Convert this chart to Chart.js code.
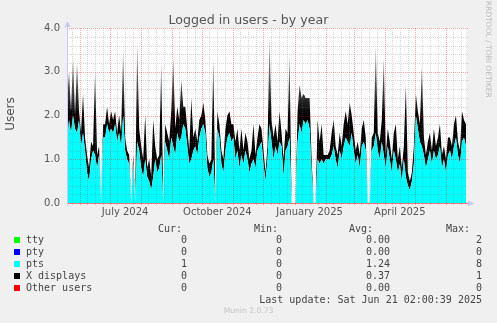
<!DOCTYPE html>
<html>
<head>
<meta charset="utf-8">
<title>Logged in users - by year</title>
<script src="https://cdn.jsdelivr.net/npm/chart.js@4.4.1/dist/chart.umd.min.js"></script>
<style>
  body { margin: 0; background: #f0f0f0; }
  #wrap { position: relative; width: 497px; height: 323px; overflow: hidden; font-family: "DejaVu Sans", sans-serif; color: #555; }
  #wrap canvas { position: absolute; left: 0; top: 0; }
  .t { position: absolute; white-space: pre; }
  .mono { font-family: "DejaVu Sans Mono", monospace; font-size: 10px; line-height: 12px; color: #444; }
  .r { text-align: right; }
  .sq { position: absolute; left: 14px; width: 6px; height: 6px; }
</style>
</head>
<body>
<div id="wrap">
  <canvas id="usersChart" width="497" height="323"></canvas>
  <div class="t" id="title" style="left:0;width:497px;top:11.8px;text-align:center;font-size:12.6px;line-height:15px;color:#555">Logged in users - by year</div>
  <div class="t" style="left:-20px;top:106px;width:60px;height:16px;line-height:16px;font-size:12px;text-align:center;transform:rotate(-90deg);color:#555">Users</div>
  <div class="t" style="left:438px;top:46px;width:100px;height:10px;line-height:10px;font-size:7.5px;text-align:left;transform:rotate(90deg);color:#bbb">RRDTOOL / TOBI OETIKER</div>
  <div id="legend"></div>
  <div class="t" style="left:0;width:497px;top:306px;text-align:center;font-size:7.6px;line-height:10px;color:#c4c4c4">Munin 2.0.73</div>
</div>
<script>
// sampling: one value every 2 days, starting 19 May 2024
var startDate = Date.UTC(2024, 4, 19);
var endDay = 398;
var stepDays = 2;

// pts (cyan), left to right
var ptsData = [
  1.3, 1.9, 1.6, 2.0, 1.7, 1.6, 1.9, 1.3, 1.6, 1.2,
  0.7, 0.5, 1.0, 1.2, 1.1, 0.8, 1.1, 0, 1.5, 1.5,
  1.8, 1.6, 1.7, 1.6, 1.8, 1.4, 1.6, 1.3, 2.0, 1.2,
  1.0, 0.9, 0, 0.9, 0, 1.4, 1.2, 0.8, 0.6, 1.0,
  0.6, 0.5, 0.3, 0.6, 1.0, 0.7, 0.8, 1.1, 0, 1.4,
  1.2, 1.0, 1.5, 1.3, 1.1, 1.6, 1.4, 1.5, 1.8, 1.7,
  1.3, 0.9, 1.0, 1.2, 1.3, 1.1, 1.5, 1.7, 1.8, 1.6,
  0.8, 0.6, 0.7, 1.0, 0, 1.7, 1.5, 0.9, 0.7, 1.2,
  1.5, 1.6, 1.4, 1.5, 1.0, 1.2, 0.8, 1.1, 0.9, 1.2,
  1.0, 0.7, 0.9, 1.0, 0.8, 1.2, 1.3, 1.4, 0.9, 0.5,
  1.0, 1.8, 1.4, 1.0, 1.3, 1.1, 1.4, 1.3, 0.6, 1.2,
  1.3, 1.5, 0, 0, 0, 1.4, 1.8, 1.6, 1.9, 1.8,
  1.9, 1.7, 0.7, 0, 0, 1.0, 0.9, 1.0, 0.9, 1.0,
  1.0, 1.0, 1.1, 1.3, 1.0, 0.8, 1.2, 1.0, 1.3, 1.5,
  1.4, 1.3, 1.6, 1.2, 0.9, 1.1, 0.8, 1.3, 1.4, 1.2,
  0, 0, 1.2, 1.3, 1.6, 1.2, 1.0, 1.4, 1.1, 0.8,
  1.3, 1.0, 0.7, 1.2, 1.0, 0.7, 0.9, 0.5, 1.0, 0.6,
  0.4, 0.3, 0.5, 0.9, 2.0, 1.7, 1.4, 1.3, 1.1, 0.8,
  1.0, 1.2, 0.9, 1.2, 1.0, 1.1, 1.3, 0.8, 1.0, 0.7,
  1.1, 1.2, 1.0, 1.3, 1.5, 1.1, 0.9, 1.4, 1.5, 1.3
];

// X displays (black), stacked on top of pts
var xDispData = [
  1.0, 1.1, 0.5, 1.3, 0.3, 1.6, 0.2, 0.3, 0.9, 0.3,
  0.4, 0.3, 0.4, 0.1, 1.9, 0.3, 0.2, 0, 0.3, 0.3,
  0.4, 0.2, 0.4, 0.3, 0.3, 0.2, 0.4, 0.3, 1.5, 0.3,
  0.2, 0.2, 0, 0.2, 0, 2.3, 0.5, 0.5, 0.4, 1.0,
  0.2, 0.5, 0.3, 1.3, 0.3, 0.3, 0.3, 2.1, 0, 0.4,
  0.4, 0.4, 0.6, 2.0, 0.6, 0.6, 0.5, 1.3, 0.4, 0.5,
  0.4, 0.3, 1.4, 0.3, 0.4, 0.3, 0.4, 0.3, 0.5, 0.3,
  0.3, 0.3, 0.3, 2.3, 0, 0.4, 0.3, 0.3, 0.3, 0.5,
  0.5, 0.5, 0.4, 0.3, 0.4, 0.5, 0.4, 0.6, 0.3, 0.4,
  0.4, 0.3, 0.3, 0.8, 0.3, 0.3, 0.5, 0.3, 0.3, 0.2,
  0.3, 2.0, 0.5, 0.5, 0.5, 0.3, 0.7, 0.3, 0.4, 0.5,
  0.3, 1.9, 0, 0, 0, 0.7, 0.9, 0.8, 0.6, 0.6,
  0.5, 0.7, 0.3, 0, 0, 0.9, 0.5, 0.8, 0.2, 0.1,
  0.1, 0.2, 0.5, 0.6, 0.3, 0.3, 0.4, 0.3, 0.5, 0.6,
  0.4, 1.0, 0.4, 0.4, 0.3, 0.3, 0.3, 0.4, 0.5, 0.3,
  0, 0, 0.3, 0.3, 2.0, 0.4, 0.4, 0.5, 2.2, 0.3,
  0.4, 0.4, 0.3, 0.4, 0.8, 0.3, 0.4, 0.3, 0.3, 2.1,
  0.3, 0.2, 0.2, 0.4, 0.5, 0.4, 0.4, 1.8, 0.4, 0.3,
  0.4, 0.4, 0.3, 0.5, 0.3, 0.4, 0.5, 0.3, 0.3, 0.3,
  0.4, 0.3, 0.3, 0.5, 0.5, 0.3, 0.3, 0.7, 0.4, 0.5
];

// x axis labels (mid month)
var tickLabels = ["July 2024", "October 2024", "January 2025", "April 2025"];
var tickDates = ["2024-07-16", "2024-10-16", "2025-01-16", "2025-04-16"];

// legend table
var seriesNames = ["tty", "pty", "pts", "X displays", "Other users"];
var seriesColors = ["#00ff00", "#0000ff", "#00ffff", "#000000", "#ff0000"];
var curValues = ["0", "0", "1", "0", "0"];
var minValues = ["0", "0", "0", "0", "0"];
var avgValues = ["0.00", "0.00", "1.24", "0.37", "0.00"];
var maxValues = ["2", "0", "8", "1", "0"];
var lastUpdate = "Last update: Sat Jun 21 02:00:39 2025";

function dayOf(str) {
  var p = str.split("-");
  return Math.round((Date.UTC(+p[0], +p[1] - 1, +p[2]) - startDate) / 86400000);
}

var tickDays = tickDates.map(dayOf);

function toPoints(values) {
  return values.map(function (v, i) {
    return { x: i * stepDays, y: v };
  });
}

// thin spikes fade out like the anti-aliased rrdtool ones
function blackFill(context) {
  var chart = context.chart;
  var a = chart.chartArea;
  if (!a) return "#000";
  var ys = chart.scales.y;
  var g = chart.ctx.createLinearGradient(0, ys.getPixelForValue(3.9), 0, ys.getPixelForValue(2.0));
  g.addColorStop(0, "rgba(0,0,0,0.2)");
  g.addColorStop(1, "rgba(0,0,0,1)");
  return g;
}

// white canvas, dotted grid on top of the areas, axes with arrows
var rrdLook = {
  id: "rrdLook",
  beforeDatasetsDraw: function (chart) {
    var a = chart.chartArea;
    var ctx = chart.ctx;
    ctx.save();
    ctx.fillStyle = "#ffffff";
    ctx.fillRect(a.left, a.top, a.right - a.left, a.bottom - a.top);
    ctx.restore();
  },
  afterDatasetsDraw: function (chart) {
    var a = chart.chartArea;
    var ctx = chart.ctx;
    var xs = chart.scales.x;
    var ys = chart.scales.y;
    ctx.save();
    ctx.lineWidth = 1;
    ctx.setLineDash([1, 1]);

    for (var k = 0; k <= 20; k++) {
      var py = Math.round(ys.getPixelForValue(k * 0.2)) + 0.5;
      ctx.strokeStyle = k % 5 === 0 ? "rgba(255,0,0,0.35)" : "rgba(120,120,120,0.3)";
      ctx.beginPath();
      ctx.moveTo(a.left, py);
      ctx.lineTo(a.right + 3, py);
      ctx.stroke();
    }

    for (var d = 0; d <= endDay; d++) {
      var dt = new Date(startDate + d * 86400000).getUTCDate();
      var major = dt === 1;
      if (!major && dt !== 8 && dt !== 16 && dt !== 24) continue;
      var px = Math.round(xs.getPixelForValue(d)) + 0.5;
      ctx.strokeStyle = major ? "rgba(255,0,0,0.35)" : "rgba(120,120,120,0.3)";
      ctx.beginPath();
      ctx.moveTo(px, a.top);
      ctx.lineTo(px, a.bottom + 3);
      ctx.stroke();
    }

    ctx.setLineDash([]);
    // x axis
    ctx.strokeStyle = "rgba(230,90,90,0.75)";
    ctx.beginPath();
    ctx.moveTo(a.left, a.bottom + 0.5);
    ctx.lineTo(a.right + 3, a.bottom + 0.5);
    ctx.stroke();
    // y axis
    ctx.strokeStyle = "#c8c8f4";
    ctx.beginPath();
    ctx.moveTo(a.left + 0.5, a.bottom + 3);
    ctx.lineTo(a.left + 0.5, a.top - 4);
    ctx.stroke();
    ctx.fillStyle = "#c8c8f4";
    ctx.beginPath();
    ctx.moveTo(a.left + 0.5, a.top - 7);
    ctx.lineTo(a.left - 2.5, a.top - 1);
    ctx.lineTo(a.left + 3.5, a.top - 1);
    ctx.fill();
    ctx.beginPath();
    ctx.moveTo(a.right + 8, a.bottom + 0.5);
    ctx.lineTo(a.right + 2, a.bottom - 2.5);
    ctx.lineTo(a.right + 2, a.bottom + 3.5);
    ctx.fill();
    ctx.restore();
  }
};

Chart.defaults.font.family = "DejaVu Sans";
Chart.defaults.font.size = 10;
Chart.defaults.color = "#555";

new Chart("usersChart", {
  type: "line",
  data: {
    datasets: [
      {
        label: "pts",
        data: toPoints(ptsData),
        backgroundColor: "#00ffff",
        borderWidth: 0,
        pointRadius: 0,
        fill: "origin",
      },
      {
        label: "X displays",
        data: toPoints(xDispData),
        backgroundColor: blackFill,
        borderWidth: 0,
        pointRadius: 0,
        fill: "-1",
      },
    ],
  },
  options: {
    responsive: false,
    animation: false,
    layout: { padding: { left: 0, top: 28, right: 31, bottom: 100 } },
    plugins: { legend: { display: false }, tooltip: { enabled: false } },
    scales: {
      x: {
        type: "linear",
        min: 0,
        max: endDay,
        grid: { display: false, drawTicks: false },
        border: { display: false },
        afterBuildTicks: function (scale) {
          scale.ticks = tickDays.map(function (v) {
            return { value: v };
          });
        },
        afterFit: function (scale) {
          scale.height = 20;
        },
        ticks: {
          autoSkip: false,
          maxRotation: 0,
          padding: 3,
          color: "#555",
          callback: function (v) {
            return tickLabels[tickDays.indexOf(v)];
          },
        },
      },
      y: {
        stacked: true,
        min: 0,
        max: 4,
        grid: { display: false, drawTicks: false },
        border: { display: false },
        afterFit: function (scale) {
          scale.width = 67;
        },
        ticks: {
          stepSize: 1,
          padding: 7,
          color: "#555",
          callback: function (v) {
            return v.toFixed(1);
          },
        },
      },
    },
  },
  plugins: [rrdLook],
});

// legend rows under the graph
var legendBox = document.getElementById("legend");
var html = "";
var headTop = 222.5;
html += '<div class="t mono r" style="right:315px;top:' + headTop + 'px">Cur:</div>';
html += '<div class="t mono r" style="right:219px;top:' + headTop + 'px">Min:</div>';
html += '<div class="t mono r" style="right:124px;top:' + headTop + 'px">Avg:</div>';
html += '<div class="t mono r" style="right:27px;top:' + headTop + 'px">Max:</div>';
for (var i = 0; i < seriesNames.length; i++) {
  var rowTop = 234 + i * 12;
  html += '<div class="sq" style="top:' + (rowTop + 2.8) + 'px;background:' + seriesColors[i] + '"></div>';
  html += '<div class="t mono" style="left:26px;top:' + rowTop + 'px">' + seriesNames[i] + '</div>';
  html += '<div class="t mono r" style="right:310px;top:' + rowTop + 'px">' + curValues[i] + '</div>';
  html += '<div class="t mono r" style="right:215px;top:' + rowTop + 'px">' + minValues[i] + '</div>';
  html += '<div class="t mono r" style="right:107px;top:' + rowTop + 'px">' + avgValues[i] + '</div>';
  html += '<div class="t mono r" style="right:15px;top:' + rowTop + 'px">' + maxValues[i] + '</div>';
}
html += '<div class="t mono r" style="right:15px;top:294px">' + lastUpdate + '</div>';
legendBox.innerHTML = html;
</script>
</body>
</html>
